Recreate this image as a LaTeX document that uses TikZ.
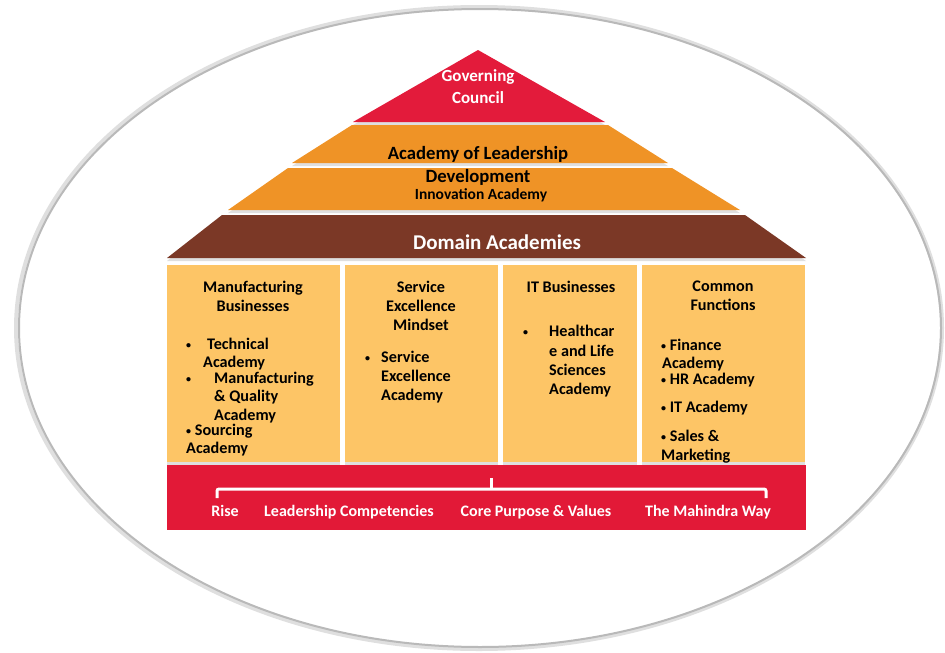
\documentclass[tikz,border=0pt]{standalone}
\usepackage{fontspec}
\setmainfont{Carlito}
\usetikzlibrary{shadows}
\definecolor{govred}{HTML}{E31B3B}
\definecolor{acadorange}{HTML}{EF9326}
\definecolor{domainbrown}{HTML}{7B3826}
\definecolor{colyellow}{HTML}{FDC566}
\definecolor{barred}{HTML}{E21937}
\newcommand{\smbul}{{\fontsize{10}{10}\selectfont\raisebox{0.5pt}{•}}}

\begin{document}
\begin{tikzpicture}[x=1pt,y=-1pt,
	txt/.style={inner sep=0pt,anchor=base,font=\bfseries\fontsize{16.2}{19}\selectfont},
	lft/.style={txt,anchor=base west},
	wtxt/.style={txt,text=white},
	band/.style={drop shadow={opacity=0.25,shadow xshift=0pt,shadow yshift=-3pt}},
	colbox/.style={fill=colyellow,band}]
	\useasboundingbox (0,0) rectangle (945,653);
	% ring
	\draw[gray!25, line width=4pt] (479,328) ellipse (463pt and 321pt);
	\draw[gray!55, line width=2pt] (480,328) ellipse (461pt and 319pt);
	% roof
	\fill[govred,band] (478,50) -- (605,122) -- (353,122) -- cycle;
	\fill[acadorange,band] (352,125) -- (608,125) -- (668,163) -- (292,163) -- cycle;
	\fill[acadorange,band] (288,168) -- (672,168) -- (740,210) -- (228,210) -- cycle;
	\fill[domainbrown,band] (222,215) -- (745,215) -- (806,258) -- (167,258) -- cycle;
	\node[wtxt,font=\bfseries\fontsize{17}{19}\selectfont] (gov1) at (478,81) {Governing};
	\node[wtxt,font=\bfseries\fontsize{17}{19}\selectfont] (gov2) at (478,103) {Council};
	\node[txt,font=\bfseries\fontsize{18.7}{19}\selectfont] (lead1) at (478,159) {Academy of Leadership};
	\node[txt,font=\bfseries\fontsize{18.7}{19}\selectfont] (lead2) at (478,182) {Development};
	\node[txt,font=\bfseries\fontsize{15.5}{19}\selectfont] (innov) at (481,199) {Innovation Academy};
	\node[wtxt,font=\bfseries\fontsize{21}{19}\selectfont] (domain) at (497,249) {Domain Academies};
	% columns
	\path[colbox] (167,265) rectangle (340,462);
	\path[colbox] (345,265) rectangle (498,462);
	\path[colbox] (503,265) rectangle (637,462);
	\path[colbox] (642,265) rectangle (805,462);
	% manufacturing
	\node[txt] (m1) at (253,292) {Manufacturing};
	\node[txt] (m2) at (253,311) {Businesses};
	\node[lft] (mb1) at (186,349) {\smbul};
	\node[lft] (m3) at (207,349) {Technical};
	\node[lft] (m4) at (203,367) {Academy};
	\node[lft] (mb2) at (186,383) {\smbul};
	\node[lft] (m5) at (214,383) {Manufacturing};
	\node[lft] (m6) at (214,401) {\& Quality};
	\node[lft] (m7) at (214,420) {Academy};
	\node[lft] (m8) at (186,435) {\smbul{} Sourcing};
	\node[lft] (m9) at (186,453) {Academy};
	% service
	\node[txt] (s1) at (421,292) {Service};
	\node[txt] (s2) at (421,311) {Excellence};
	\node[txt] (s3) at (421,330) {Mindset};
	\node[lft] (sb) at (365,362) {\smbul};
	\node[lft] (s4) at (381,362) {Service};
	\node[lft] (s5) at (381,381) {Excellence};
	\node[lft] (s6) at (381,400) {Academy};
	% it
	\node[txt] (i1) at (571,292) {IT Businesses};
	\node[lft] (ib) at (523,336) {\smbul};
	\node[lft] (i2) at (549,336) {Healthcar};
	\node[lft] (i3) at (549,356) {e and Life};
	\node[lft] (i4) at (549,375) {Sciences};
	\node[lft] (i5) at (549,394) {Academy};
	% common
	\node[txt] (f1) at (723,291) {Common};
	\node[txt] (f2) at (723,310) {Functions};
	\node[lft] (f3) at (661,350) {\smbul{} Finance};
	\node[lft] (f4) at (662,368) {Academy};
	\node[lft] (f5) at (661,384) {\smbul{} HR Academy};
	\node[lft] (f6) at (661,412) {\smbul{} IT Academy};
	\node[lft] (f7) at (661,441) {\smbul{} Sales \&};
	\node[lft] (f8) at (661,460) {Marketing};
	% base
	\fill[barred] (167,465) rectangle (806,530);
	\coordinate (bl) at (217,498);
	\coordinate (br) at (766,498);
	\coordinate (bm) at (491,478);
	\draw[white,line width=3pt,rounded corners=2pt] (bl) |- (491,489) -| (br);
	\draw[white,line width=3pt] (bm) -- (491,489);
	\begin{scope}[every node/.style={wtxt,font=\bfseries\fontsize{16}{19}\selectfont}]
	\node (rise) at (225,516) {Rise};
	\node (comp) at (349,516) {Leadership Competencies};
	\node (core) at (536,516) {Core Purpose \& Values};
	\node (way) at (708,516) {The Mahindra Way};
	\end{scope}
\end{tikzpicture}
\end{document}
